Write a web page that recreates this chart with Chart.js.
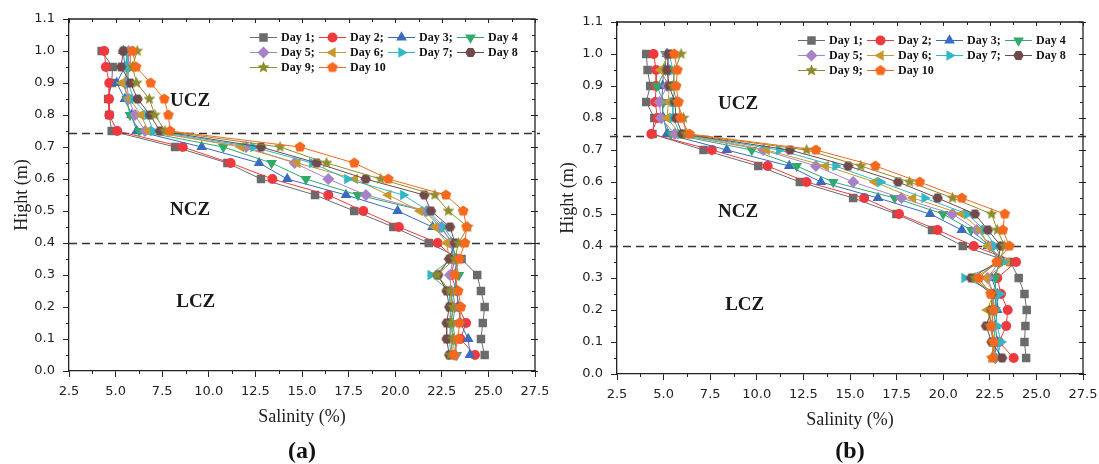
<!DOCTYPE html>
<html>
<head>
<meta charset="utf-8">
<script src="https://cdn.jsdelivr.net/npm/chart.js@4.4.1/dist/chart.umd.min.js"></script>
<style>
  html, body { margin: 0; padding: 0; background: #fff; }
  #wrap { position: relative; width: 1099px; height: 464px; overflow: hidden; }
  #wrap canvas { position: absolute; top: 0; }
  #panelA { left: 0; }
  #panelB { left: 548px; }
</style>
</head>
<body>
<div id="wrap">
  <canvas id="panelA" width="548" height="464" style="width:548px;height:464px"></canvas>
  <canvas id="panelB" width="551" height="464" style="width:551px;height:464px"></canvas>
</div>
<script>
// Sampling heights (m), top of the column downwards
const heights = [1.00, 0.95, 0.90, 0.85, 0.80, 0.75, 0.70, 0.65, 0.60, 0.55,
                 0.50, 0.45, 0.40, 0.35, 0.30, 0.25, 0.20, 0.15, 0.10, 0.05];

const dayNames = ['Day 1;', 'Day 2;', 'Day 3;', 'Day 4', 'Day 5;', 'Day 6;', 'Day 7;', 'Day 8', 'Day 9;', 'Day 10'];

// Axis ticks
const xTickValues = [2.5, 5.0, 7.5, 10.0, 12.5, 15.0, 17.5, 20.0, 22.5, 25.0, 27.5];
const xTickLabels = ['2.5', '5.0', '7.5', '10.0', '12.5', '15.0', '17.5', '20.0', '22.5', '25.0', '27.5'];
const yTickValues = [0.0, 0.1, 0.2, 0.3, 0.4, 0.5, 0.6, 0.7, 0.8, 0.9, 1.0, 1.1];
const yTickLabels = ['0.0', '0.1', '0.2', '0.3', '0.4', '0.5', '0.6', '0.7', '0.8', '0.9', '1.0', '1.1'];

// Zone boundaries (m) and zone names
const zoneBounds = [0.745, 0.40];
const zoneNames = ['UCZ', 'NCZ', 'LCZ'];

// Salinity (%) profiles, panel (a)
const a_day1  = [4.25, 4.84, 4.79, 4.60, 4.66, 4.79, 8.19, 11.0, 12.8, 15.7, 17.8, 19.9, 21.8, 23.56, 24.4, 24.6, 24.8, 24.7, 24.6, 24.8];
const a_day2  = [4.39, 4.48, 4.66, 4.65, 4.66, 5.09, 8.6, 11.17, 13.41, 16.41, 18.29, 20.2, 22.28, 23.2, 23.0, 23.3, 23.4, 23.8, 23.5, 24.28];
const a_day3  = [5.41, 5.5, 5.06, 5.5, 5.86, 6.13, 9.62, 12.7, 14.21, 17.36, 20.13, 22.0, 23.0, 23.3, 23.2, 23.3, 23.4, 23.5, 23.92, 24.01];
const a_day4  = [5.6, 5.6, 5.5, 5.6, 5.77, 6.27, 10.78, 13.37, 15.21, 18.0, 21.6, 22.4, 23.1, 23.2, 23.42, 23.1, 23.2, 23.1, 23.2, 23.3];
const a_day5  = [5.7, 5.7, 5.6, 5.7, 6.04, 6.58, 12.0, 14.6, 16.41, 18.43, 21.7, 22.5, 23.0, 23.1, 22.94, 23.0, 23.1, 23.0, 23.1, 23.2];
const a_day6  = [5.8, 5.8, 5.33, 5.77, 6.36, 6.75, 11.73, 14.75, 17.84, 19.63, 21.33, 22.13, 22.76, 22.9, 22.2, 22.9, 23.0, 22.9, 23.0, 23.1];
const a_day7  = [5.6, 5.65, 5.7, 5.95, 6.7, 7.02, 12.39, 15.55, 17.43, 20.43, 21.8, 22.6, 23.2, 23.0, 21.9, 22.9, 22.94, 23.0, 22.9, 23.0];
const a_day8  = [5.41, 5.29, 5.8, 6.18, 6.85, 7.38, 12.8, 15.79, 18.42, 21.56, 21.92, 22.94, 23.21, 22.9, 22.3, 22.76, 22.9, 22.76, 22.76, 22.9];
const a_day9  = [6.16, 5.9, 6.13, 6.81, 7.11, 7.65, 13.82, 16.32, 19.22, 22.13, 22.85, 23.9, 23.4, 23.2, 22.24, 22.94, 23.1, 23.0, 23.1, 22.95];
const a_day10 = [5.9, 6.1, 6.88, 7.61, 7.83, 7.92, 14.89, 17.8, 19.63, 22.72, 23.65, 23.83, 23.74, 23.44, 23.2, 23.38, 23.53, 23.44, 23.38, 23.16];

// Salinity (%) profiles, panel (b)
const b_day1  = [4.07, 4.14, 4.28, 4.07, 4.5, 4.4, 7.14, 10.08, 12.31, 15.17, 17.49, 19.4, 21.05, 23.6, 24.05, 24.36, 24.48, 24.41, 24.36, 24.45];
const b_day2  = [4.46, 4.6, 4.6, 4.55, 4.67, 4.34, 7.59, 10.58, 12.67, 15.76, 17.63, 19.7, 21.64, 23.91, 22.9, 23.1, 23.46, 23.38, 23.0, 23.78];
const b_day3  = [5.18, 5.0, 4.95, 4.9, 5.0, 5.18, 8.39, 11.74, 13.44, 16.5, 19.3, 21.0, 22.4, 23.2, 22.6, 22.9, 22.9, 22.8, 22.9, 23.0];
const b_day4  = [5.1, 5.1, 4.64, 5.0, 4.91, 5.4, 9.73, 12.14, 14.1, 17.4, 20.0, 21.5, 22.5, 23.0, 22.8, 22.8, 22.8, 22.7, 22.8, 22.8];
const b_day5  = [5.2, 5.3, 5.18, 4.78, 4.85, 5.6, 10.35, 13.17, 15.17, 17.76, 20.5, 21.8, 22.6, 23.0, 22.39, 22.7, 22.7, 22.6, 22.7, 22.8];
const b_day6  = [5.3, 4.82, 5.3, 5.26, 5.18, 5.89, 10.53, 13.7, 16.33, 18.38, 21.0, 22.0, 22.39, 23.41, 22.3, 22.7, 22.36, 22.6, 22.7, 22.7];
const b_day7  = [5.3, 5.5, 5.6, 5.5, 5.5, 5.9, 11.2, 14.22, 16.63, 19.0, 21.3, 22.2, 22.8, 23.2, 21.14, 23.02, 22.8, 22.9, 23.1, 22.9];
const b_day8  = [5.26, 5.18, 5.3, 5.6, 5.67, 6.0, 11.78, 14.9, 17.58, 19.7, 21.7, 22.4, 23.1, 22.9, 21.5, 22.6, 22.6, 22.3, 22.6, 23.16];
const b_day9  = [5.94, 5.6, 5.5, 5.7, 6.07, 6.2, 12.67, 15.58, 18.2, 20.5, 22.6, 22.9, 23.3, 23.0, 21.7, 22.6, 22.6, 22.5, 22.7, 22.6];
const b_day10 = [5.57, 5.74, 5.67, 5.8, 5.9, 6.39, 13.17, 16.36, 18.74, 21.0, 23.3, 23.2, 23.55, 22.87, 21.91, 22.54, 22.7, 22.58, 22.7, 22.66];

const panelA = [a_day1, a_day2, a_day3, a_day4, a_day5, a_day6, a_day7, a_day8, a_day9, a_day10];
const panelB = [b_day1, b_day2, b_day3, b_day4, b_day5, b_day6, b_day7, b_day8, b_day9, b_day10];

// Series appearance
const dayColors = ['#6b6b6b', '#ee3a3e', '#3a6bbf', '#2faa6a', '#a882c8',
                   '#c8972e', '#31b8c6', '#70494a', '#8d8d2f', '#f4691d'];

// Custom filled markers (Chart.js has no filled star/pentagon/hexagon)
function polygonMarker(kind, color, r) {
  const s = Math.ceil(r * 2 + 2);
  const c = document.createElement('canvas');
  c.width = s; c.height = s;
  const g = c.getContext('2d');
  g.fillStyle = color;
  g.translate(s / 2, s / 2);
  g.beginPath();
  if (kind === 'star') {
    for (let i = 0; i < 10; i++) {
      const rr = i % 2 ? r * 0.45 : r;
      const ang = -Math.PI / 2 + i * Math.PI / 5;
      g.lineTo(rr * Math.cos(ang), rr * Math.sin(ang));
    }
  } else {
    const n = kind === 'pentagon' ? 5 : 6;
    const start = kind === 'pentagon' ? -Math.PI / 2 : 0;
    for (let i = 0; i < n; i++) {
      const ang = start + i * 2 * Math.PI / n;
      g.lineTo(r * Math.cos(ang), r * Math.sin(ang));
    }
  }
  g.closePath();
  g.fill();
  return c;
}

const markerSpecs = [
  { style: 'rect', rot: 0, r: 6 },
  { style: 'circle', rot: 0, r: 5 },
  { style: 'triangle', rot: 0, r: 6.2 },
  { style: 'triangle', rot: 180, r: 6.2 },
  { style: 'rectRot', rot: 0, r: 6 },
  { style: 'triangle', rot: -90, r: 6.2 },
  { style: 'triangle', rot: 90, r: 6.2 },
  { style: polygonMarker('hexagon', dayColors[7], 5.3), rot: 0, r: 5 },
  { style: polygonMarker('star', dayColors[8], 6.3), rot: 0, r: 5 },
  { style: polygonMarker('pentagon', dayColors[9], 5.6), rot: 0, r: 5 }
];

const AXIS_COLOR = '#222';
const TICK_FONT = { family: 'DejaVu Sans', size: 13 };
const SERIF = 'Liberation Serif';

function buildDatasets(profiles) {
  return profiles.map((vals, i) => ({
    label: dayNames[i],
    data: vals.map((v, k) => ({ x: v, y: heights[k] })),
    showLine: true,
    borderColor: dayColors[i],
    backgroundColor: dayColors[i],
    borderWidth: 1,
    pointStyle: markerSpecs[i].style,
    rotation: markerSpecs[i].rot,
    pointRadius: markerSpecs[i].r,
    pointBorderWidth: 0,
    pointHoverRadius: markerSpecs[i].r,
    order: 10 - i
  }));
}

// Frame: top/right axis lines plus minor and mirrored ticks
const framePlugin = {
  id: 'frame',
  afterDraw(chart) {
    const { ctx, chartArea: a, scales: { x, y } } = chart;
    ctx.save();
    ctx.strokeStyle = AXIS_COLOR;
    ctx.lineWidth = 1.3;
    ctx.beginPath();
    ctx.moveTo(a.left, a.top);
    ctx.lineTo(a.right, a.top);
    ctx.lineTo(a.right, a.bottom);
    ctx.stroke();
    ctx.lineWidth = 1;
    ctx.beginPath();
    for (let i = 0; i < xTickValues.length; i++) {
      const px = Math.round(x.getPixelForValue(xTickValues[i])) + 0.5;
      ctx.moveTo(px, a.top); ctx.lineTo(px, a.top + 4);
      if (i < xTickValues.length - 1) {
        const mx = Math.round(x.getPixelForValue((xTickValues[i] + xTickValues[i + 1]) / 2)) + 0.5;
        ctx.moveTo(mx, a.bottom); ctx.lineTo(mx, a.bottom + 3);
        ctx.moveTo(mx, a.top); ctx.lineTo(mx, a.top + 3);
      }
    }
    for (let i = 0; i < yTickValues.length; i++) {
      const py = Math.round(y.getPixelForValue(yTickValues[i])) + 0.5;
      ctx.moveTo(a.right - 4, py); ctx.lineTo(a.right + 3, py);
      if (i < yTickValues.length - 1) {
        const my = Math.round(y.getPixelForValue((yTickValues[i] + yTickValues[i + 1]) / 2)) + 0.5;
        ctx.moveTo(a.left, my); ctx.lineTo(a.left - 3, my);
        ctx.moveTo(a.right - 3, my); ctx.lineTo(a.right, my);
      }
    }
    ctx.stroke();
    ctx.restore();
  }
};

// Dashed zone boundaries and zone names
const zonePlugin = {
  id: 'zones',
  beforeDatasetsDraw(chart, args, opts) {
    const { ctx, chartArea: a, scales: { y } } = chart;
    ctx.save();
    ctx.strokeStyle = '#333';
    ctx.lineWidth = 1.4;
    ctx.setLineDash([8, 5]);
    zoneBounds.forEach(b => {
      const py = Math.round(y.getPixelForValue(b)) + 0.5;
      ctx.beginPath();
      ctx.moveTo(a.left - opts.leftExt, py);
      ctx.lineTo(a.right + 5, py);
      ctx.stroke();
    });
    ctx.restore();
  },
  afterDatasetsDraw(chart, args, opts) {
    const { ctx, scales: { x, y } } = chart;
    ctx.save();
    ctx.fillStyle = '#1a1a1a';
    ctx.font = 'bold 19px "' + SERIF + '"';
    ctx.textAlign = 'center';
    ctx.textBaseline = 'middle';
    opts.labelPos.forEach((p, i) => {
      ctx.fillText(zoneNames[i], x.getPixelForValue(p[0]), y.getPixelForValue(p[1]));
    });
    ctx.restore();
  }
};

// Four-column legend with line + marker samples
const legendPlugin = {
  id: 'dayLegend',
  afterDraw(chart) {
    const { ctx, chartArea: a } = chart;
    const x0 = a.left + 181, y0 = a.top + 18;
    const colW = 69, rowH = 15, lineLen = 27;
    ctx.save();
    chart.data.datasets.forEach((ds, i) => {
      const col = i % 4, row = Math.floor(i / 4);
      const lx = x0 + col * colW, ly = y0 + row * rowH;
      ctx.strokeStyle = ds.borderColor;
      ctx.lineWidth = 1;
      ctx.beginPath();
      ctx.moveTo(lx, ly + 0.5); ctx.lineTo(lx + lineLen, ly + 0.5);
      ctx.stroke();
      ctx.fillStyle = ds.backgroundColor;
      Chart.helpers.drawPoint(ctx, {
        pointStyle: ds.pointStyle, rotation: ds.rotation, radius: ds.pointRadius, borderWidth: 0
      }, lx + lineLen / 2, ly + 0.5);
      ctx.fillStyle = '#111';
      ctx.font = 'bold 12px "' + SERIF + '"';
      ctx.textAlign = 'left';
      ctx.textBaseline = 'middle';
      ctx.fillText(ds.label, lx + lineLen + 4, ly + 1);
    });
    ctx.restore();
  }
};

// Panel letter under the axis title
const panelTagPlugin = {
  id: 'panelTag',
  afterDraw(chart, args, opts) {
    const { ctx, chartArea: a } = chart;
    ctx.save();
    ctx.fillStyle = '#111';
    ctx.font = 'bold 24px "' + SERIF + '"';
    ctx.textAlign = 'center';
    ctx.textBaseline = 'middle';
    ctx.fillText(opts.text, (a.left + a.right) / 2, opts.y);
    ctx.restore();
  }
};

function makePanel(canvasId, profiles, cfg) {
  return new Chart(document.getElementById(canvasId), {
    type: 'scatter',
    data: { datasets: buildDatasets(profiles) },
    plugins: [zonePlugin, framePlugin, legendPlugin, panelTagPlugin],
    options: {
      responsive: false,
      animation: false,
      devicePixelRatio: 1,
      layout: { padding: { top: cfg.top, right: cfg.right, left: 0, bottom: 0 } },
      plugins: {
        legend: { display: false },
        tooltip: { enabled: false },
        zones: { leftExt: cfg.leftExt, labelPos: cfg.zoneLabelPos },
        panelTag: { text: cfg.tag, y: cfg.tagY }
      },
      scales: {
        x: {
          type: 'linear',
          position: 'bottom',
          min: xTickValues[0],
          max: xTickValues[xTickValues.length - 1],
          afterBuildTicks: s => { s.ticks = xTickValues.map(v => ({ value: v })); },
          afterFit: s => { s.height = cfg.xHeight; s.paddingLeft = 0; s.paddingRight = 0; },
          ticks: {
            autoSkip: false, maxRotation: 0, minRotation: 0,
            padding: 7,
            color: AXIS_COLOR,
            font: TICK_FONT,
            callback: (v, idx) => xTickLabels[idx]
          },
          grid: { display: true, drawOnChartArea: false, drawTicks: true, tickLength: 6, color: AXIS_COLOR, lineWidth: 1 },
          border: { display: true, color: AXIS_COLOR, width: 1.3 },
          title: {
            display: true, text: 'Salinity (%)', color: '#222',
            font: { family: SERIF, size: 18 },
            padding: { top: 0, bottom: cfg.xTitlePad }
          }
        },
        y: {
          type: 'linear',
          position: 'left',
          min: yTickValues[0],
          max: yTickValues[yTickValues.length - 1],
          afterBuildTicks: s => { s.ticks = yTickValues.map(v => ({ value: v })); },
          afterFit: s => { s.width = 69; s.paddingTop = 0; s.paddingBottom = 0; },
          ticks: {
            padding: 8,
            color: AXIS_COLOR,
            font: TICK_FONT,
            callback: (v, idx) => yTickLabels[idx]
          },
          grid: { display: true, drawOnChartArea: false, drawTicks: true, tickLength: 6, color: AXIS_COLOR, lineWidth: 1 },
          border: { display: true, color: AXIS_COLOR, width: 1.3 },
          title: {
            display: true, text: 'Hight (m)', color: '#222',
            font: { family: SERIF, size: 18 },
            padding: { top: cfg.yTitlePad, bottom: 0 }
          }
        }
      }
    }
  });
}

makePanel('panelA', panelA, {
  top: 19, right: 13, xHeight: 93, xTitlePad: 36, yTitlePad: 11, leftExt: 0,
  tag: '(a)', tagY: 452,
  zoneLabelPos: [[9.0, 0.844], [9.0, 0.503], [9.3, 0.216]]
});

makePanel('panelB', panelB, {
  top: 22, right: 16, xHeight: 90, xTitlePad: 33, yTitlePad: 9, leftExt: 7,
  tag: '(b)', tagY: 452,
  zoneLabelPos: [[9.0, 0.844], [9.0, 0.506], [9.35, 0.216]]
});
</script>
</body>
</html>
